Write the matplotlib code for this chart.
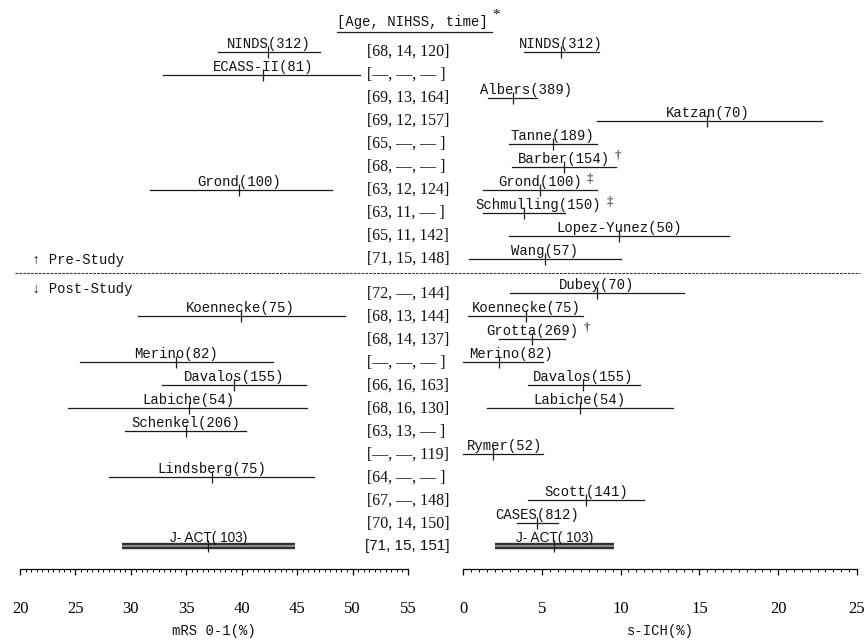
import matplotlib
matplotlib.use("Agg")
import matplotlib.pyplot as plt
from matplotlib.ticker import MultipleLocator
from matplotlib.lines import Line2D
import matplotlib.transforms as mtransforms

# ---------------- data ----------------
studies = ["NINDS(312)", "ECASS-II(81)", "Albers(389)", "Katzan(70)", "Tanne(189)",
           "Barber(154)", "Grond(100)", "Schmulling(150)", "Lopez-Yunez(50)", "Wang(57)",
           "Dubey(70)", "Koennecke(75)", "Grotta(269)", "Merino(82)", "Davalos(155)",
           "Labiche(54)", "Schenkel(206)", "Rymer(52)", "Lindsberg(75)", "Scott(141)",
           "CASES(812)", "J- ACT( 103)"]
n_pre = 10  # first 10 studies are pre-study

mrs_point = [42.4, 41.9, None, None, None, None, 39.8, None, None, None,
             None, 39.9, None, 34.1, 39.3, 35.2, 35.0, None, 37.3, None, None, 37.0]
mrs_low = [37.9, 32.9, None, None, None, None, 31.7, None, None, None,
           None, 30.6, None, 25.4, 32.8, 24.3, 29.5, None, 28.0, None, None, 29.2]
mrs_high = [47.1, 50.7, None, None, None, None, 48.1, None, None, None,
            None, 49.3, None, 42.8, 45.8, 45.9, 40.4, None, 46.5, None, None, 44.8]

sich_point = [6.2, None, 3.2, 15.5, 5.7, 6.4, 4.9, 3.9, 9.9, 5.2,
              8.5, 4.0, 4.4, 2.3, 7.6, 7.4, None, 1.9, None, 7.8, 4.7, 5.8]
sich_low = [3.9, None, 1.6, 8.5, 2.9, 3.1, 1.3, 1.3, 2.9, 0.4,
            3.0, 0.3, 2.3, 0.0, 4.1, 1.5, None, 0.0, None, 4.1, 3.4, 2.0]
sich_high = [8.6, None, 4.7, 22.8, 8.5, 9.7, 8.5, 6.5, 16.9, 10.0,
             14.0, 7.6, 6.5, 5.1, 11.2, 13.3, None, 5.1, None, 11.5, 6.0, 9.6]
sich_marks = {"Barber(154)": "†", "Grond(100)": "‡", "Schmulling(150)": "‡",
              "Grotta(269)": "†"}

characteristics = ["[68, 14, 120]", "[—, —, — ]", "[69, 13, 164]", "[69, 12, 157]",
                   "[65, —, — ]", "[68, —, — ]", "[63, 12, 124]", "[63, 11, — ]",
                   "[65, 11, 142]", "[71, 15, 148]",
                   "[72, —, 144]", "[68, 13, 144]", "[68, 14, 137]", "[—, —, — ]",
                   "[66, 16, 163]", "[68, 16, 130]", "[63, 13, — ]", "[—, —, 119]",
                   "[64, —, — ]", "[67, —, 148]", "[70, 14, 150]", "[71, 15, 151]"]
header = "[Age, NIHSS, time]"
highlight = "J- ACT( 103)"

mrs_ticks = [20, 25, 30, 35, 40, 45, 50, 55]
sich_ticks = [0, 5, 10, 15, 20, 25]
mrs_label = "mRS 0-1(%)"
sich_label = "s-ICH(%)"

# ---------------- style / layout ----------------
W, H = 864, 641
MONO = ["Liberation Mono", "DejaVu Sans Mono"]
SERIF = ["Liberation Serif", "DejaVu Serif"]
SANS = ["Liberation Sans", "DejaVu Sans"]
GAP = 0.5          # extra spacing between pre and post study blocks
label_dx = {("R", "Albers(389)"): 13, ("R", "Schmulling(150)"): 14,
            ("R", "Merino(82)"): 12, ("R", "Rymer(52)"): 12}

rows = [i if i < n_pre else i + GAP for i in range(len(studies))]

fig = plt.figure(figsize=(W / 100, H / 100), dpi=100)
axL = fig.add_axes([20 / W, 1 - 569 / H, 388 / W, 569 / H])
axR = fig.add_axes([463 / W, 1 - 569 / H, 394 / W, 569 / H])

for ax, lim, ticks in [(axL, (20, 55), mrs_ticks), (axR, (0, 25), sich_ticks)]:
    ax.set_xlim(*lim)
    ax.set_ylim(22.48, -2.26)
    ax.patch.set_visible(False)
    for s in ["top", "left", "right"]:
        ax.spines[s].set_visible(False)
    ax.spines["bottom"].set_linewidth(0.9)
    ax.set_yticks([])
    ax.set_xticks(ticks)
    ax.xaxis.set_minor_locator(MultipleLocator(0.5))
    ax.tick_params(axis="x", which="major", length=4, width=0.9, pad=19,
                   direction="out", labelsize=12)
    ax.tick_params(axis="x", which="minor", length=2.2, width=0.7, direction="out")
    for lab in ax.get_xticklabels():
        lab.set_fontfamily(SERIF)

fig.text(214 / W, 1 - 631 / H, mrs_label, ha="center", va="center",
         fontfamily=MONO, fontsize=10, color="#111111")
fig.text(660 / W, 1 - 631 / H, sich_label, ha="center", va="center",
         fontfamily=MONO, fontsize=10, color="#111111")


def draw_panel(ax, side, point, low, high, marks):
    for name, y, p, lo, hi in zip(studies, rows, point, low, high):
        if p is None:
            continue
        hl = name == highlight
        if hl:
            ax.plot([lo, hi], [y, y], color="#333333", lw=4.6, solid_capstyle="butt",
                    clip_on=False, zorder=2)
            ax.plot([lo, hi], [y, y], color="#8c8c8c", lw=1.4, solid_capstyle="butt",
                    clip_on=False, zorder=3)
        else:
            ax.plot([lo, hi], [y, y], color="#1a1a1a", lw=0.9, clip_on=False, zorder=2)
        ax.plot([p], [y], marker="|", color="#1a1a1a", ms=8, mew=0.9,
                clip_on=False, zorder=4)
        dx = label_dx.get((side, name), 0) * 0.72
        t = ax.annotate(name, xy=(p, y), xytext=(dx, 3), textcoords="offset points",
                        ha="center", va="baseline",
                        fontfamily=SANS if hl else MONO,
                        fontsize=9.8 if hl else 10, color="#111111",
                        annotation_clip=False)
        if name in marks:
            ax.annotate(marks[name], xy=(1, 1), xycoords=t, xytext=(3.5, 2),
                        textcoords="offset points", ha="left", va="top",
                        fontsize=9, fontfamily=SERIF, color="#111111")


draw_panel(axL, "L", mrs_point, mrs_low, mrs_high, {})
draw_panel(axR, "R", sich_point, sich_low, sich_high, sich_marks)

# middle column of characteristics
blend = mtransforms.blended_transform_factory(fig.transFigure, axL.transData)
for txt, y in zip(characteristics, rows):
    last = y == rows[-1]
    fig.text(367 / W if not last else 365 / W, y, txt, transform=blend,
             ha="left", va="center", fontfamily=SANS if last else SERIF,
             fontsize=11 if last else 11.5, color="#111111")

# header with underline
fig.text(337 / W, -1.3, header, transform=blend, ha="left", va="center",
         fontfamily=MONO, fontsize=10, color="#111111")
fig.text(492 / W, -1.6, "*", transform=blend, ha="left", va="center",
         fontfamily=SERIF, fontsize=11, color="#111111")
fig.add_artist(Line2D([337 / W, 492 / W], [-0.87, -0.87], transform=blend,
                      color="#222222", lw=0.9))

# pre/post separator
sep_y = n_pre - 1 + 0.6
fig.add_artist(Line2D([15 / W, 860 / W], [sep_y, sep_y], transform=blend,
                      color="#333333", lw=0.8, linestyle=(0, (2.5, 1))))
fig.text(32 / W, n_pre - 1 + 0.05, "↑ Pre-Study", transform=blend, ha="left",
         va="center", fontfamily=MONO + ["DejaVu Sans"], fontsize=10, color="#111111")
fig.text(32 / W, n_pre - 1 + 1.3, "↓ Post-Study", transform=blend, ha="left",
         va="center", fontfamily=MONO + ["DejaVu Sans"], fontsize=10, color="#111111")

fig.savefig("out.png", dpi=100, facecolor="white")
